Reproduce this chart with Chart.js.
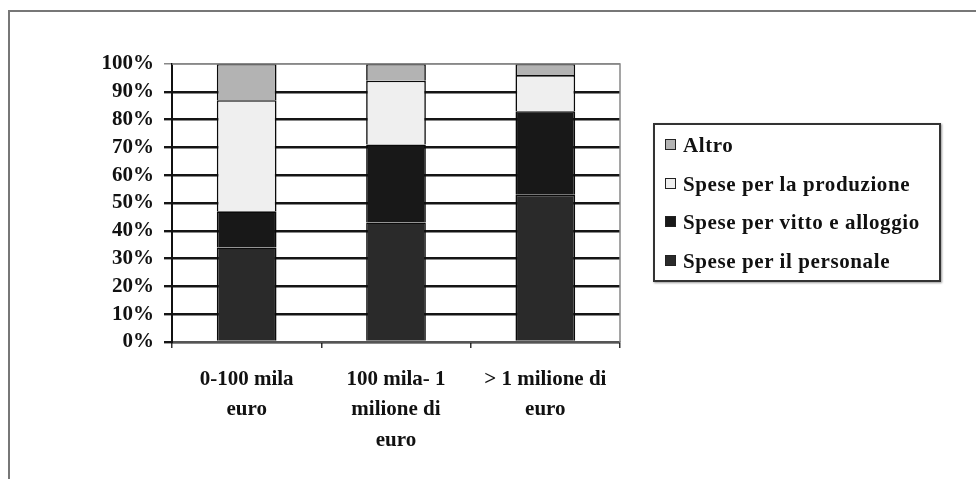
<!DOCTYPE html>
<html>
<head>
<meta charset="utf-8">
<script src="https://cdn.jsdelivr.net/npm/chart.js@4.4.0/dist/chart.umd.min.js"></script>
<style>
  body { margin: 0; background: #fff; }
  #wrap { position: relative; width: 976px; height: 479px; overflow: hidden; }
  #frame { position: absolute; left: 8px; top: 10px; width: 980px; height: 480px;
           border-left: 2px solid #777; border-top: 2px solid #777; }
  #myChart { position: absolute; left: 0; top: 0; }
  #legend { position: absolute; left: 653px; top: 123px; width: 284px; height: 155px;
            border: 2px solid #333; box-shadow: 1px 1px 2px #999; background: #fff;
            font-family: "Liberation Serif", serif; font-weight: bold; font-size: 21px;
            letter-spacing: 0.6px; color: #111; }
  #legend div { position: absolute; left: 10px; white-space: nowrap; }
  #legend span { display: inline-block; width: 9px; height: 9px; border: 1.5px solid #222;
                 margin-right: 7px; vertical-align: 2px; }
</style>
</head>
<body>
<div id="wrap">
  <div id="frame"></div>
  <canvas id="myChart" width="976" height="479"></canvas>
  <div id="legend"></div>
</div>
<script>
let categories = [["0-100 mila", "euro"], ["100 mila- 1", "milione di", "euro"], ["> 1 milione di", "euro"]]
let personale = [34, 43, 53]
let vitto = [13, 28, 30]
let produzione = [40, 23, 13]
let altro = [13, 6, 4]
let yTicks = [0, 10, 20, 30, 40, 50, 60, 70, 80, 90, 100]

let font = { family: "Liberation Serif", size: 21, weight: "bold", lineHeight: 1.45 }

// right / top border of the plot area
let plotBorder = {
    id: "plotBorder",
    afterDraw(chart) {
        let a = chart.chartArea
        let c = chart.ctx
        c.save()
        c.strokeStyle = "#888"
        c.lineWidth = 1.5
        c.beginPath()
        c.moveTo(a.left, a.top)
        c.lineTo(a.right, a.top)
        c.lineTo(a.right, a.bottom)
        c.stroke()
        c.restore()
    }
}

const ctx = document.getElementById("myChart")
let chart = new Chart(ctx, {
    type: "bar",
    data: {
        labels: categories,
        datasets: [
            { label: "Spese per il personale", data: personale, backgroundColor: "#2a2a2a" },
            { label: "Spese per vitto e alloggio", data: vitto, backgroundColor: "#181818" },
            { label: "Spese per la produzione", data: produzione, backgroundColor: "#efefef" },
            { label: "Altro", data: altro, backgroundColor: "#b3b3b3" }
        ].map(d => Object.assign(d, {
            borderColor: "#0a0a0a", borderWidth: 1.6,
            barPercentage: 0.4, categoryPercentage: 1
        }))
    },
    options: {
        responsive: false,
        animation: false,
        layout: { padding: { top: 64, right: 356, left: 0, bottom: 0 } },
        plugins: { legend: { display: false }, tooltip: { enabled: false } },
        scales: {
            x: {
                stacked: true,
                afterFit: s => { s.height = 137 },
                grid: { offset: true, drawOnChartArea: false, tickLength: 6, color: "#333", lineWidth: 1.5 },
                border: { color: "#555", width: 2 },
                ticks: { font: font, color: "#111", maxRotation: 0, padding: 16 }
            },
            y: {
                stacked: true,
                min: 0, max: 100,
                afterFit: s => { s.width = 172 },
                afterBuildTicks: s => { s.ticks = yTicks.map(v => ({ value: v })) },
                grid: {
                    color: c => c.tick && c.tick.value == 100 ? "#888" : "#151515",
                    lineWidth: c => c.tick && c.tick.value == 100 ? 1.5 : 2.4,
                    tickLength: 8
                },
                border: { color: "#111", width: 2 },
                ticks: { autoSkip: false, font: { family: "Liberation Serif", size: 21, weight: "bold" }, color: "#111", padding: 10, callback: v => v + "%" }
            }
        }
    },
    plugins: [plotBorder]
})

// html legend, same order as the picture (top series first)
let legend = document.getElementById("legend")
chart.data.datasets.slice().reverse().forEach((d, i) => {
    let row = document.createElement("div")
    row.style.top = (8 + i * 38.5) + "px"
    row.innerHTML = '<span style="background:' + d.backgroundColor + '"></span>' + d.label
    legend.appendChild(row)
})
</script>
</body>
</html>
